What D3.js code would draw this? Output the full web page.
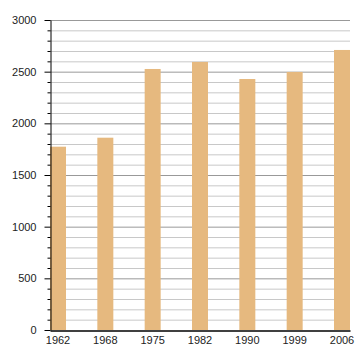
<!DOCTYPE html>
<html>
<head>
<meta charset="utf-8">
<script src="https://cdn.jsdelivr.net/npm/d3@7"></script>
<style>
  body { margin: 0; background: #fff; }
  svg { display: block; font-family: "Liberation Sans", Arial, sans-serif; }
</style>
</head>
<body>
<script>
// census years and population
const years = ["1962", "1968", "1975", "1982", "1990", "1999", "2006"];
const population = [1774, 1861, 2526, 2594, 2429, 2497, 2710];
const yMax = 3000;
const majorTicks = [0, 500, 1000, 1500, 2000, 2500, 3000];

var width = 360, height = 360;
var margin = { top: 20, right: 10, bottom: 30, left: 50 };

var svg = d3.select("body").append("svg")
    .attr("width", width)
    .attr("height", height);

var x = d3.scaleBand()
    .domain(years)
    .range([margin.left, width - margin.right])
    .paddingInner(0.662)
    .paddingOuter(0);

var y = d3.scaleLinear()
    .domain([0, yMax])
    .range([height - margin.bottom, margin.top]);

// minor gridlines every 100
var minor = d3.range(100, yMax + 1, 100).filter(d => d % 500 !== 0);

svg.append("g")
    .selectAll("line")
    .data(minor)
    .enter().append("line")
    .attr("x1", margin.left)
    .attr("x2", width - margin.right)
    .attr("y1", d => y(d) + 0.5)
    .attr("y2", d => y(d) + 0.5)
    .attr("stroke", "#c8c8c8")
    .attr("stroke-width", 1);

svg.append("g")
    .selectAll("line")
    .data(majorTicks.filter(d => d > 0))
    .enter().append("line")
    .attr("x1", margin.left)
    .attr("x2", width - margin.right)
    .attr("y1", d => y(d) + 0.5)
    .attr("y2", d => y(d) + 0.5)
    .attr("stroke", "#999")
    .attr("stroke-width", 1);

// bars
svg.append("g")
    .selectAll("rect")
    .data(population)
    .enter().append("rect")
    .attr("x", (d, i) => x(years[i]))
    .attr("width", x.bandwidth())
    .attr("y", d => y(d))
    .attr("height", d => y(0) - y(d))
    .attr("fill", "#e6b97f");

// y axis: minor ticks
var yMinorAxis = d3.axisLeft(y)
    .tickValues(minor)
    .tickSize(3)
    .tickFormat("");

svg.append("g")
    .attr("transform", "translate(" + (margin.left + 0.5) + ",0)")
    .call(yMinorAxis)
    .call(g => g.select(".domain").remove())
    .call(g => g.selectAll(".tick line").attr("stroke", "#000"));

var yAxis = d3.axisLeft(y)
    .tickValues(majorTicks)
    .tickSize(6)
    .tickSizeOuter(0)
    .tickPadding(8)
    .tickFormat(d3.format("d"));

svg.append("g")
    .attr("transform", "translate(" + (margin.left + 0.5) + ",0)")
    .call(yAxis)
    .call(g => g.select(".domain").attr("stroke", "#000"))
    .call(g => g.selectAll(".tick text")
        .attr("font-size", 11)
        .attr("fill", "#222"));

// x axis
var xAxis = d3.axisBottom(x)
    .tickSize(0)
    .tickPadding(6);

svg.append("g")
    .attr("transform", "translate(0," + (y(0) + 0.5) + ")")
    .call(xAxis)
    .call(g => g.select(".domain").attr("stroke", "#000").attr("stroke-width", 1.5))
    .call(g => g.selectAll(".tick text")
        .attr("font-size", 11)
        .attr("fill", "#222"));
</script>
</body>
</html>
